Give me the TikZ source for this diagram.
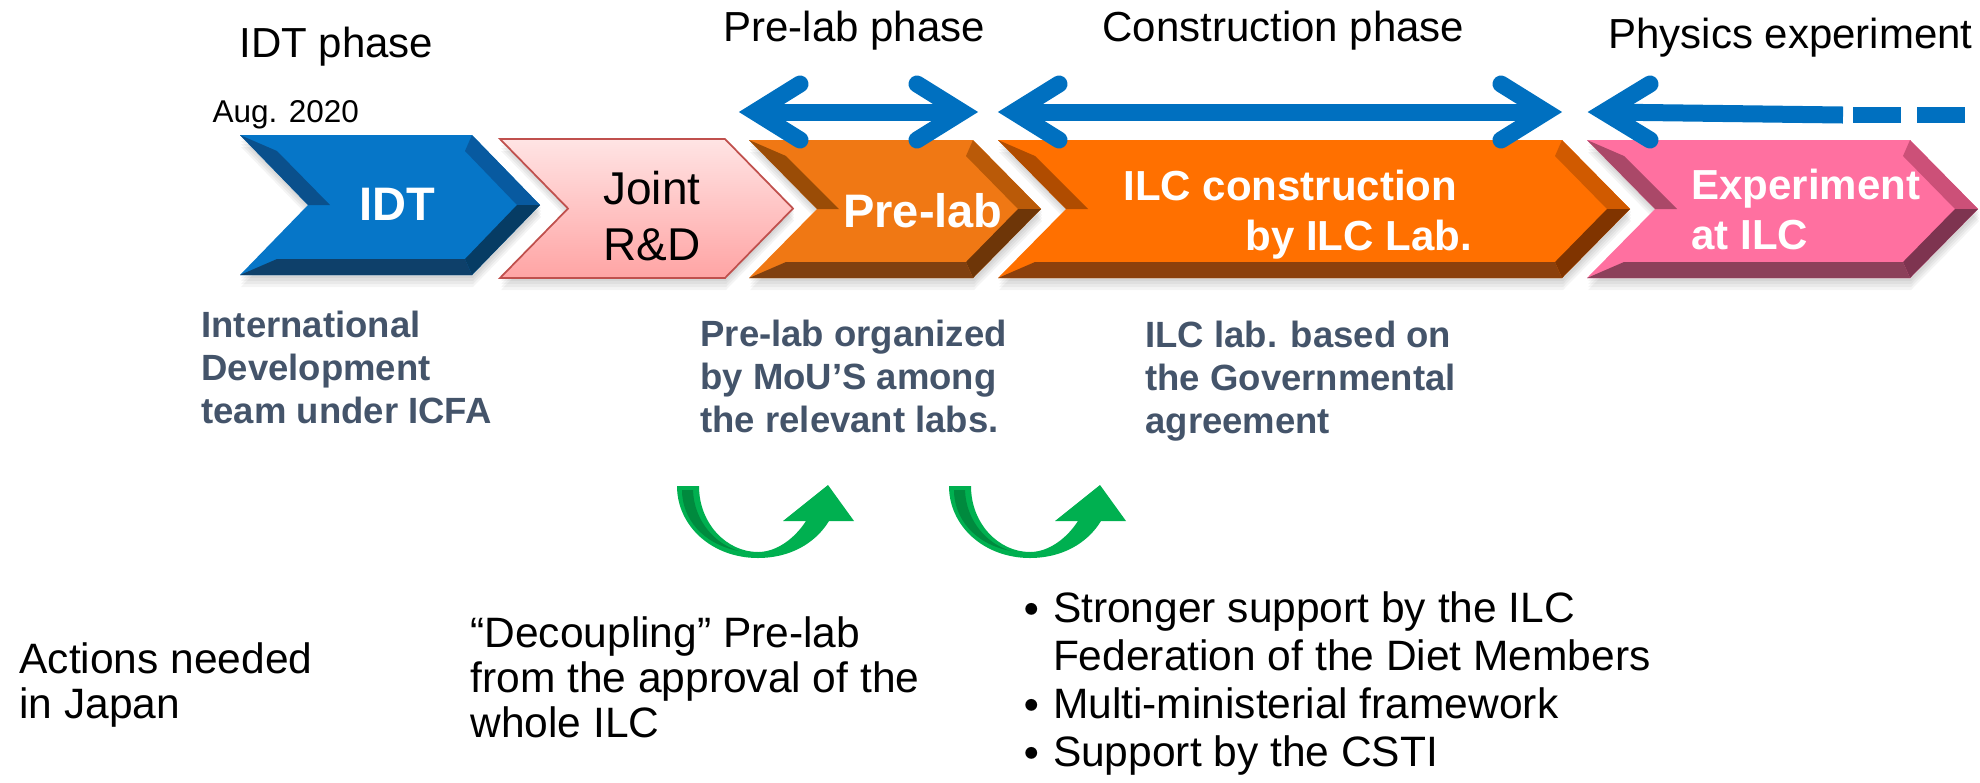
\documentclass[tikz,border=0pt]{standalone}
\usepackage{fontspec}
\setmainfont{Liberation Sans}
\newfontfamily\cjkfont{Noto Sans CJK JP}
\usepackage{tikz}
\usetikzlibrary{positioning}
\usepackage{xcolor}

\definecolor{idtMain}{HTML}{0676C8}
\definecolor{idtUL}{HTML}{0A508C}
\definecolor{idtUR}{HTML}{085AA0}
\definecolor{idtLR}{HTML}{063C64}
\definecolor{idtBot}{HTML}{0E406A}
\definecolor{preMain}{HTML}{F07814}
\definecolor{preUL}{HTML}{9A4C06}
\definecolor{preUR}{HTML}{BA5A08}
\definecolor{preLR}{HTML}{6E3608}
\definecolor{preBot}{HTML}{804010}
\definecolor{ilcMain}{HTML}{FF7000}
\definecolor{ilcUL}{HTML}{B04C00}
\definecolor{ilcUR}{HTML}{D05A00}
\definecolor{ilcLR}{HTML}{803400}
\definecolor{ilcBot}{HTML}{8C400C}
\definecolor{expMain}{HTML}{FF70A0}
\definecolor{expUL}{HTML}{AA4868}
\definecolor{expUR}{HTML}{CC5078}
\definecolor{expLR}{HTML}{7E3450}
\definecolor{expBot}{HTML}{8C405A}
\definecolor{jointTop}{HTML}{FFE4E4}
\definecolor{jointBot}{HTML}{FFA4A4}
\definecolor{jointLine}{HTML}{C0504D}
\definecolor{arrowblue}{HTML}{0070C0}
\definecolor{slate}{HTML}{44546A}
\definecolor{turngreen}{HTML}{00B050}
\definecolor{turndark}{HTML}{008A3E}

% outline of one step, with its shadow
\newcommand{\chevronpts}[5]{%
  \foreach \s in {3,6,9,12}
    \fill[black, opacity=0.045, shift={(1,\s)}] (#2,#4) -- (#3,#4) -- ({#3+68},{(#4+#5)/2}) -- (#3,#5) -- (#2,#5) -- ({#2+68},{(#4+#5)/2}) -- cycle;
  \coordinate (#1-tl) at (#2,#4);
  \coordinate (#1-tr) at (#3,#4);
  \coordinate (#1-tip) at ({#3+68},{(#4+#5)/2});
  \coordinate (#1-br) at (#3,#5);
  \coordinate (#1-bl) at (#2,#5);
  \coordinate (#1-notch) at ({#2+68},{(#4+#5)/2});
}
% bevelled step
\newcommand{\chevron}[6]{%
  \chevronpts{#1}{#2}{#3}{#4}{#5}
  \coordinate (#1-itl) at ({#2+37},{#4+16});
  \coordinate (#1-itr) at ({#3-7},{#4+16});
  \coordinate (#1-itip) at ({#3+45},{(#4+#5)/2});
  \coordinate (#1-ibr) at ({#3-7},{#5-16});
  \coordinate (#1-ibl) at ({#2+37},{#5-16});
  \coordinate (#1-inotch) at ({#2+90},{(#4+#5)/2});
  \fill[#6Main] (#1-tl) -- (#1-tr) -- (#1-tip) -- (#1-br) -- (#1-bl) -- (#1-notch) -- cycle;
  \fill[#6UL] (#1-tl) -- (#1-notch) -- (#1-inotch) -- (#1-itl) -- cycle;
  \fill[#6UR] (#1-tr) -- (#1-tip) -- (#1-itip) -- (#1-itr) -- cycle;
  \fill[#6LR] (#1-tip) -- (#1-br) -- (#1-ibr) -- (#1-itip) -- cycle;
  \fill[#6Bot] (#1-bl) -- (#1-br) -- (#1-ibr) -- (#1-ibl) -- cycle;
}
\newcommand{\dotmark}{\raisebox{-1.5pt}{\cjkfont\bfseries ・}}

\tikzset{
  turnarrow/.pic={
    \fill[turngreen] (0,0) -- (22,0) .. controls (22,38) and (50,66) .. (81,66)
      .. controls (100,66) and (118,52) .. (129,35) -- (106,35) -- (151,-1) -- (177,35) -- (152,35)
      .. controls (138,58) and (112,72) .. (81,72) .. controls (35,72) and (0,40) .. cycle;
    \fill[turndark] (5,4) -- (16,4) .. controls (17,35) and (38,58) .. (62,65)
      .. controls (25,58) and (5,32) .. cycle;
  }
}

\begin{document}
\begin{tikzpicture}[
    x=0.4pt, y=-0.4pt,
    phaselabel/.style={font=\fontsize{16.8}{20}\selectfont, inner sep=0pt, anchor=base west},
    datelabel/.style={font=\fontsize{12.6}{15}\selectfont, inner sep=0pt, anchor=base west},
    chevbig/.style={font=\bfseries\fontsize{18.8}{22}\selectfont, text=white, inner sep=0pt, anchor=base},
    chevsmall/.style={font=\bfseries\fontsize{16.8}{20}\selectfont, text=white, inner sep=0pt, anchor=base west, align=left},
    jointtext/.style={font=\fontsize{18.4}{22.4}\selectfont, inner sep=0pt, anchor=base, align=center},
    remark/.style={font=\bfseries\fontsize{14.6}{17.2}\selectfont, text=slate, inner sep=0pt, anchor=base west, align=left},
    action/.style={font=\fontsize{17}{18}\selectfont, inner sep=0pt, anchor=base west, align=left},
    phasearrow/.style={draw=arrowblue, line width=6.8pt},
    barb/.style={phasearrow, line cap=round, line join=miter},
    jointfill/.style={top color=jointTop, bottom color=jointBot, draw=jointLine, line width=0.7pt}
    ]
\useasboundingbox (0,0) rectangle (1980,782);

% steps
\chevron{idt}{240}{472}{135}{275}{idt}
\chevronpts{joint}{500}{725}{139}{278}
\path[jointfill] (joint-tl) -- (joint-tr) -- (joint-tip) -- (joint-br) -- (joint-bl) -- (joint-notch) -- cycle;
\chevron{pre}{749}{973}{140}{278}{pre}
\chevron{ilc}{998}{1562}{140}{278}{ilc}
\chevron{exp}{1587}{1910}{140}{278}{exp}

% multi-line nodes sit on their last line
\node[chevbig] (idtLabel) at (397,220) {IDT};
\node[jointtext] (jointLabel) at (652,260) {Joint\\R\&D};
\node[chevbig] (preLabel) at (923,227) {Pre-lab};
\node[chevsmall] (ilcLabel) at (1123,250) {ILC construction\\\hspace*{48.8pt}by ILC Lab.};
\node[chevsmall] (expLabel) at (1691,249) {Experiment\\at ILC};

% phases
\node[phaselabel] (phIDT) at (239,57) {IDT phase};
\node[phaselabel] (phPre) at (723,41) {Pre-lab phase};
\node[phaselabel] (phConstr) at (1102,41) {Construction phase};
\node[phaselabel] (phPhysics) at (1608,48) {Physics experiment};
\node[datelabel] (dateAug) at (212,122) {Aug. 2020};

\coordinate (pre-l) at (755,112);
\coordinate (pre-r) at (962,112);
\draw[phasearrow] (pre-l) -- (pre-r);
\draw[barb] ([shift={(45,-28)}]pre-l) -- (pre-l) -- ([shift={(45,28)}]pre-l);
\draw[barb] ([shift={(-45,-28)}]pre-r) -- (pre-r) -- ([shift={(-45,28)}]pre-r);

\coordinate (con-l) at (1014,112);
\coordinate (con-r) at (1546,112);
\draw[phasearrow] (con-l) -- (con-r);
\draw[barb] ([shift={(45,-28)}]con-l) -- (con-l) -- ([shift={(45,28)}]con-l);
\draw[barb] ([shift={(-45,-28)}]con-r) -- (con-r) -- ([shift={(-45,28)}]con-r);

\coordinate (phy-l) at (1604,112);
\coordinate (phy-r) at (1843,115);
\coordinate (phy-d1) at (1853,115);
\coordinate (phy-d2) at (1901,115);
\coordinate (phy-d3) at (1917,115);
\coordinate (phy-d4) at (1965,115);
\draw[phasearrow] (phy-l) -- (phy-r);
\draw[barb] ([shift={(46,-28)}]phy-l) -- (phy-l) -- ([shift={(46,28)}]phy-l);
\draw[phasearrow, line width=6.4pt] (phy-d1) -- (phy-d2) (phy-d3) -- (phy-d4);

% notes under the steps
\node[remark] (idtNote) at (201,423) {International\\Development\\team under ICFA};
\node[remark] (preNote) at (700,432) {Pre-lab organized\\by MoU’S among\\the relevant labs.};
\node[remark] (ilcNote) at (1145,433) {ILC lab. based on\\the Governmental\\agreement};

\pic at (677,486) {turnarrow};
\pic at (949,486) {turnarrow};

% actions
\node[action] (actHead) at (19,718) {Actions needed\\in Japan};
\node[action] (actPre) at (470,737) {“Decoupling” Pre-lab\\from the approval of the\\whole ILC};
\node[action, font=\fontsize{17}{19.2}\selectfont] (actILC) at (1010,766)
  {\dotmark Stronger support by the ILC\\\hspace*{1em}Federation of the Diet Members\\\dotmark Multi-ministerial framework\\\dotmark Support by the CSTI};
\end{tikzpicture}
\end{document}
